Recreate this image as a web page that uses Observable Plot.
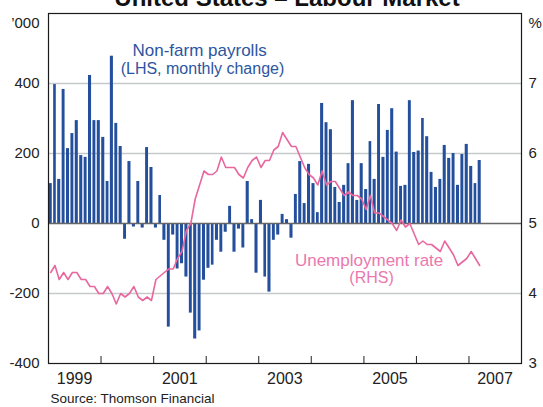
<!DOCTYPE html>
<html>
<head>
<meta charset="utf-8">
<script src="https://cdn.jsdelivr.net/npm/d3@7"></script>
<script src="https://cdn.jsdelivr.net/npm/@observablehq/plot@0.6"></script>
<style>
  html, body { margin: 0; padding: 0; background: #fff; }
  #chart { width: 543px; height: 407px; overflow: hidden; }
</style>
</head>
<body>
<div id="chart"></div>
<script>
// ---- Data (monthly, Jan 1999 – Mar 2007) ----
const startMonth = "1999-01-01";

// Non-farm payrolls, monthly change, '000 (LHS)
const payrolls = [
  114, 397, 126, 383, 214, 257, 294, 194, 189, 423, 294, 294,
  246, 120, 478, 286, 220, -45, 177, -10, 120, -13, 217, 160,
  -13, 80, -48, -296, -33, -130, -115, -153, -256, -330, -307, -162,
  -128, -119, -48, -82, -25, 49, -82, -16, -70, 120, 11, -142,
  66, -153, -196, -48, -33, 26, 11, -42, 83, 177, 57, 169,
  114, 31, 343, 288, 268, 103, 60, 109, 171, 351, 66, 171,
  97, 234, 126, 340, 189, 266, 328, 204, 106, 109, 351, 203,
  207, 300, 248, 146, 103, 126, 223, 186, 200, 109, 197, 226,
  163, 114, 180
];

// Unemployment rate, % (RHS)
const unemployment = [
  4.3, 4.4, 4.2, 4.3, 4.2, 4.3, 4.3, 4.2, 4.2, 4.1, 4.1, 4.0,
  4.0, 4.1, 4.0, 3.85, 4.0, 3.95, 4.0, 4.1, 3.95, 3.9, 3.95, 3.9,
  4.2, 4.25, 4.3, 4.35, 4.35, 4.5, 4.6, 4.9, 5.0, 5.35, 5.55, 5.75,
  5.7, 5.7, 5.75, 5.95, 5.8, 5.8, 5.8, 5.7, 5.65, 5.8, 5.9, 5.95,
  5.8, 5.9, 5.9, 6.05, 6.1, 6.3, 6.2, 6.1, 6.1, 5.95, 5.8, 5.7,
  5.65, 5.55, 5.75, 5.55, 5.6, 5.6, 5.5, 5.4, 5.45, 5.4, 5.4, 5.35,
  5.2, 5.4, 5.15, 5.15, 5.1, 5.05, 5.0, 4.9, 5.05, 4.95, 5.0, 4.85,
  4.7, 4.75, 4.7, 4.7, 4.65, 4.6, 4.75, 4.65, 4.55, 4.4, 4.45, 4.5,
  4.6, 4.5, 4.4
];

// Axis ticks / labels
const yearTicks = [2000, 2001, 2002, 2003, 2004, 2005, 2006, 2007];
const yearLabels = [1999, 2001, 2003, 2005, 2007];
const lhsTicks = [-400, -200, 0, 200, 400];
const gridTicks = [-200, 200, 400];
const xDomain = ["1999-01-01", "2008-01-01"];
const lhsDomain = [-400, 600];
const rhsDomain = [3, 8];
const tickLength = 20; // in '000 units (LHS scale)

const titleText = "United States \u2013 Labour Market";
const sourceText = "Source: Thomson Financial";
const annotations = [
  {date: "2001-11-16", v: 480, text: "Non-farm payrolls", size: 17, color: "#2c55a0"},
  {date: "2001-12-06", v: 427, text: "(LHS, monthly change)", size: 16, color: "#2c55a0"},
  {date: "2005-02-06", v: -120, text: "Unemployment rate", size: 17, color: "#ea78ae"},
  {date: "2005-02-23", v: -171, text: "(RHS)", size: 16, color: "#ea78ae"}
];

// ---- Build tables ----
const start = new Date(startMonth);
const months = d3.utcMonth.range(start, d3.utcMonth.offset(start, payrolls.length));
const bars = months.map((m, i) => ({
  x1: m, x2: d3.utcMonth.offset(m, 1), v: payrolls[i]
}));
// map RHS (%) onto LHS scale
const rhsToLhs = d3.scaleLinear().domain(rhsDomain).range(lhsDomain);
const line = months.map((m, i) => ({
  x: new Date((+m + +d3.utcMonth.offset(m, 1)) / 2),
  y: rhsToLhs(unemployment[i])
}));
const tickDates = yearTicks.map(y => new Date(Date.UTC(y, 0, 1)));
const labelDates = yearLabels.map(y => new Date(Date.UTC(y, 6, 1)));

const FONT = "'Liberation Sans', Arial, Helvetica, sans-serif";
const BLUE = "#244f9c";
const PINK = "#e8679f";

const chart = Plot.plot({
  width: 543,
  height: 407,
  marginLeft: 48,
  marginRight: 22,
  marginTop: 13,
  marginBottom: 44,
  style: {fontFamily: FONT, background: "#fff", color: "#222"},
  x: {type: "utc", domain: xDomain.map(d => new Date(d))},
  y: {domain: lhsDomain},
  marks: [
    Plot.gridY(gridTicks, {stroke: "#c6c9cc", strokeOpacity: 1, strokeWidth: 1.5}),
    Plot.rectY(bars, {x1: "x1", x2: "x2", y: "v", fill: BLUE, insetLeft: 0.7, insetRight: 0.7}),
    Plot.ruleY([0], {stroke: "#666", strokeWidth: 1.6}),
    Plot.line(line, {x: "x", y: "y", stroke: PINK, strokeWidth: 1.6}),
    Plot.ruleX(tickDates, {x: d => d, y1: lhsDomain[0], y2: lhsDomain[0] + tickLength, stroke: "#222", strokeWidth: 1}),
    Plot.frame({stroke: "#1a1a1a", strokeWidth: 1.2}),
    Plot.axisY(lhsTicks, {anchor: "left", tickSize: 0, tickPadding: 9, fontSize: 15, tickFormat: d => String(d)}),
    Plot.axisY(lhsTicks, {anchor: "right", tickSize: 0, tickPadding: 7, fontSize: 15, tickFormat: d => String(rhsToLhs.invert(d))}),
    Plot.axisX(labelDates, {anchor: "bottom", tickSize: 0, tickPadding: 9, fontSize: 16, tickFormat: d => String(d.getUTCFullYear())}),
    Plot.text(["\u2019000"], {frameAnchor: "top-left", textAnchor: "end", dx: -9, dy: 4, fontSize: 15, fill: "#222"}),
    Plot.text(["%"], {frameAnchor: "top-right", textAnchor: "start", dx: 7, dy: 4, fontSize: 15, fill: "#222"}),
    Plot.text([titleText], {frameAnchor: "top", lineAnchor: "bottom", dx: 2, dy: -8, fontSize: 24, fontWeight: "bold", fill: "#111"}),
    Plot.text([sourceText], {frameAnchor: "bottom-left", textAnchor: "start", lineAnchor: "bottom", dx: 2, dy: 39, fontSize: 13.5, fill: "#222"}),
    Plot.text(annotations, {x: d => new Date(d.date), y: "v", text: "text", fontSize: d => d.size, fill: d => d.color, lineAnchor: "bottom", textAnchor: "middle"})
  ]
});
document.getElementById("chart").appendChild(chart);
</script>
</body>
</html>
